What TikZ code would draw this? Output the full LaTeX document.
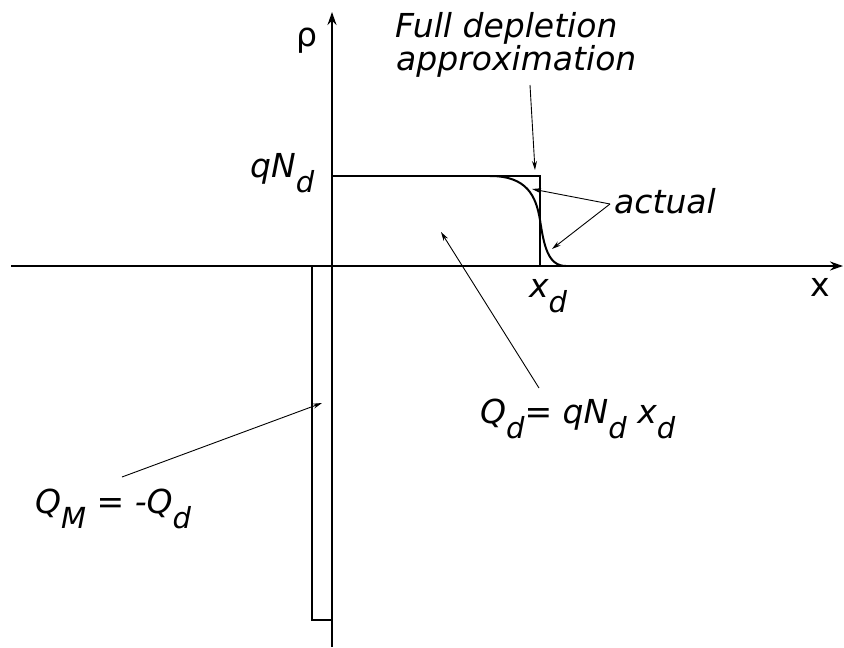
\documentclass[tikz,border=0pt]{standalone}
\usepackage{fontspec}
\setmainfont{DejaVu Sans}
\usetikzlibrary{arrows.meta}
\tikzset{
  lbl/.style={font=\fontsize{33}{38}\selectfont\itshape, inner sep=0pt, anchor=base west},
  ulbl/.style={font=\fontsize{33}{38}\selectfont, inner sep=0pt, anchor=base west},
  bold line/.style={line width=2pt},
  axis/.style={line width=2pt, -{Stealth[length=13pt,width=9pt]}},
  ptr/.style={line width=0.9pt, -{Stealth[length=9pt,width=5pt]}},
}
\newcommand{\sbs}[1]{\raisebox{-15pt}{\fontsize{29}{34}\selectfont #1}}
\begin{document}
\begin{tikzpicture}[x=1pt,y=-1pt]
\useasboundingbox (0,0) rectangle (844,648);
% axes
\coordinate (xs) at (11,266);
\coordinate (xe) at (843,266);
\draw[axis] (xs) -- (xe);
\coordinate (ys) at (332,647);
\coordinate (ye) at (332,12);
\draw[axis] (ys) -- (ye);
% full depletion box
\coordinate (t0) at (332,176);
\coordinate (t1) at (540,176);
\coordinate (t2) at (540,266);
\draw[bold line] (t0) -- (t1) -- (t2);
% actual curve
\coordinate (c0) at (490,176);
\coordinate (c1) at (540,220);
\coordinate (c2) at (566,266);
\draw[bold line] (c0) .. controls (527,176) and (536,196) .. (c1)
  .. controls (544,246) and (548,266) .. (c2);
% metal charge
\coordinate (m0) at (312,266);
\coordinate (m1) at (312,620);
\coordinate (m2) at (332,620);
\draw[bold line] (m0) -- (m1) -- (m2);
% labels
\node[ulbl] (rho) at (296,46) {ρ};
\node[ulbl] (xl) at (810,296) {x};
\node[lbl] (qnd) at (250,177) {qN\sbs{d}};
\node[lbl] (xd) at (529,297) {x\sbs{d}};
\node[lbl] (fd1) at (395,37) {Full depletion};
\node[lbl] (fd2) at (396,70) {approximation};
\node[lbl] (act) at (614,213) {actual};
\node[lbl] (qd) at (480,423) {Q\sbs{d}= qN\sbs{d} x\sbs{d}};
\node[lbl] (qm) at (35,513) {Q\sbs{M} = -Q\sbs{d}};
% pointers
\coordinate (p0) at (530,85);
\coordinate (p1) at (535,170);
\draw[ptr] (p0) -- (p1);
\coordinate (a0) at (610,204);
\coordinate (a1) at (532,189);
\coordinate (a2) at (552,249);
\draw[ptr] (a0) -- (a1);
\draw[ptr] (a0) -- (a2);
\coordinate (q0) at (539,388);
\coordinate (q1) at (441,232);
\draw[ptr] (q0) -- (q1);
\coordinate (r0) at (122,477);
\coordinate (r1) at (322,403);
\draw[ptr] (r0) -- (r1);
\end{tikzpicture}
\end{document}
